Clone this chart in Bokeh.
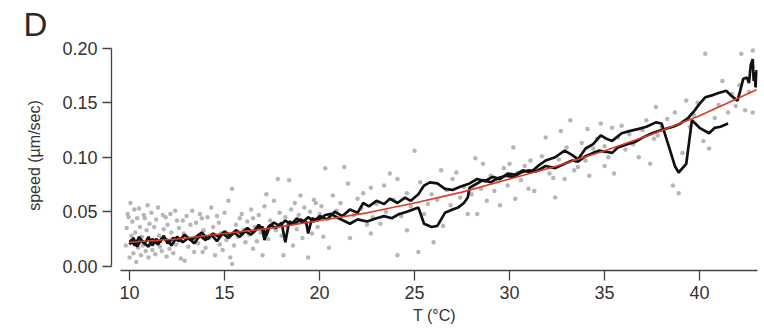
from bokeh.plotting import figure
from bokeh.models import Range1d, FixedTicker, NumeralTickFormatter
from bokeh.embed import file_html
from bokeh.resources import INLINE

# ---- data ----
x_ticks = [10, 15, 20, 25, 30, 35, 40]
y_ticks = [0.00, 0.05, 0.10, 0.15, 0.20]

scatter_t = [
    9.8, 9.85, 9.9, 9.95, 10.0, 10.05, 10.1, 10.15, 10.2, 10.25,
    10.3, 10.35, 10.4, 10.45, 10.5, 10.55, 10.6, 10.65, 10.7, 10.75,
    10.8, 10.85, 10.9, 10.95, 11.0, 11.05, 11.1, 11.15, 11.2, 11.3,
    11.35, 11.4, 11.5, 11.55, 11.6, 11.7, 11.75, 11.8, 11.9, 11.95,
    12.0, 12.1, 12.15, 12.2, 12.3, 12.4, 12.45, 12.5, 12.6, 12.7,
    12.8, 12.85, 12.9, 13.0, 13.1, 13.2, 13.3, 13.35, 13.4, 13.5,
    13.6, 13.7, 13.8, 13.85, 13.9, 14.0, 14.1, 14.2, 14.3, 14.4,
    14.5, 14.6, 14.7, 14.75, 14.8, 14.9, 15.0, 15.1, 15.2, 15.3,
    15.4, 15.4, 15.5, 15.6, 15.7, 15.8, 15.9, 16.0, 16.1, 16.2,
    16.3, 16.4, 16.5, 16.5, 16.6, 16.7, 16.8, 16.9, 17.0, 17.1,
    17.2, 17.3, 17.4, 17.6, 17.7, 17.8, 17.9, 18.0, 18.1, 18.2,
    18.3, 18.4, 18.5, 18.6, 18.7, 18.8, 18.9, 19.0, 19.1, 19.2,
    19.3, 19.4, 19.5, 19.6, 19.7, 19.8, 19.9, 20.0, 20.1, 20.2,
    20.3, 20.5, 20.5, 20.7, 20.9, 21.1, 21.3, 21.5, 21.6, 21.8,
    22.0, 22.2, 22.3, 22.5, 22.7, 22.7, 22.8, 23.0, 23.2, 23.4,
    23.5, 23.7, 23.9, 24.1, 24.1, 24.3, 24.6, 24.6, 24.8, 25.0,
    25.2, 25.3, 25.5, 25.7, 25.9, 26.0, 26.2, 26.4, 26.5, 26.7,
    26.9, 27.0, 27.2, 27.4, 27.6, 27.8, 28.0, 28.2, 28.3, 28.5,
    28.6, 28.8, 29.0, 29.2, 29.4, 29.5, 29.7, 29.9, 30.0, 30.2,
    30.3, 30.4, 30.6, 30.8, 31.0, 31.1, 31.3, 31.5, 31.7, 31.9,
    32.1, 32.3, 32.4, 32.6, 32.7, 32.9, 33.0, 33.2, 33.4, 33.6,
    33.8, 34.0, 34.1, 34.2, 34.4, 34.6, 34.8, 35.0, 35.0, 35.2,
    35.4, 35.5, 35.7, 35.9, 36.1, 36.3, 36.5, 36.8, 37.0, 37.2,
    37.4, 37.6, 37.7, 37.8, 38.0, 38.3, 38.6, 38.7, 38.9, 39.1,
    39.3, 39.5, 39.7, 39.9, 40.2, 40.3, 40.5, 40.8, 41.0, 41.2,
    41.5, 41.7, 41.9, 42.1, 42.2, 42.4, 42.6, 42.8, 42.8, 43.0,
]
scatter_v = [
    0.019, 0.035, 0.048, 0.045, 0.008, 0.058, 0.028, 0.041, 0.012, 0.052,
    0.031, 0.004, 0.044, 0.017, 0.053, 0.036, 0.010, 0.027, 0.019, 0.047,
    0.044, 0.014, 0.033, 0.056, 0.008, 0.039, 0.023, 0.049, 0.015, 0.036,
    0.011, 0.043, 0.054, 0.028, 0.018, 0.014, 0.047, 0.034, 0.045, 0.009,
    0.038, 0.016, 0.048, 0.031, 0.012, 0.051, 0.020, 0.042, 0.035, 0.007,
    0.042, 0.030, 0.005, 0.046, 0.018, 0.038, 0.051, 0.024, 0.013, 0.040,
    0.021, 0.048, 0.044, 0.013, 0.033, 0.017, 0.045, 0.026, 0.054, 0.036,
    0.010, 0.046, 0.040, 0.020, 0.030, 0.015, 0.049, 0.024, 0.060, 0.008,
    0.071, 0.002, 0.019, 0.038, 0.027, 0.044, 0.048, 0.033, 0.022, 0.041,
    0.029, 0.052, 0.044, 0.016, 0.036, 0.023, 0.047, 0.031, 0.010, 0.055,
    0.066, 0.025, 0.042, 0.060, 0.033, 0.080, 0.049, 0.028, 0.010, 0.045,
    0.037, 0.079, 0.052, 0.019, 0.058, 0.034, 0.047, 0.065, 0.026, 0.054,
    0.040, 0.008, 0.050, 0.030, 0.061, 0.058, 0.036, 0.048, 0.055, 0.027,
    0.090, 0.017, 0.044, 0.065, 0.051, 0.058, 0.091, 0.076, 0.026, 0.047,
    0.062, 0.053, 0.067, 0.038, 0.072, 0.030, 0.045, 0.057, 0.039, 0.074,
    0.050, 0.085, 0.061, 0.080, 0.010, 0.046, 0.067, 0.033, 0.055, 0.106,
    0.013, 0.077, 0.048, 0.057, 0.066, 0.022, 0.061, 0.088, 0.037, 0.070,
    0.056, 0.080, 0.086, 0.063, 0.073, 0.048, 0.066, 0.099, 0.048, 0.071,
    0.094, 0.060, 0.083, 0.069, 0.078, 0.056, 0.090, 0.074, 0.094, 0.109,
    0.062, 0.085, 0.079, 0.092, 0.071, 0.097, 0.069, 0.088, 0.101, 0.118,
    0.085, 0.081, 0.063, 0.098, 0.124, 0.080, 0.109, 0.134, 0.088, 0.091,
    0.113, 0.097, 0.126, 0.083, 0.108, 0.117, 0.131, 0.092, 0.110, 0.100,
    0.127, 0.085, 0.118, 0.129, 0.107, 0.121, 0.112, 0.100, 0.125, 0.134,
    0.094, 0.117, 0.146, 0.120, 0.128, 0.135, 0.074, 0.141, 0.067, 0.104,
    0.152, 0.128, 0.139, 0.150, 0.115, 0.195, 0.108, 0.136, 0.148, 0.170,
    0.141, 0.158, 0.147, 0.166, 0.195, 0.143, 0.160, 0.141, 0.198, 0.176,
]

# trace ending near 41.5 °C (with dip at ~39 °C)
trace1_t = [
    10.0, 10.2, 10.4, 10.6, 10.8, 11.0, 11.2, 11.4, 11.6, 11.8,
    12.0, 12.3, 12.6, 12.9, 13.2, 13.5, 13.8, 14.1, 14.4, 14.7,
    15.0, 15.3, 15.6, 15.9, 16.2, 16.5, 16.8, 17.0, 17.1, 17.3,
    17.6, 17.9, 18.2, 18.5, 18.8, 19.1, 19.4, 19.7, 20.0, 20.4,
    20.8, 21.2, 21.6, 22.0, 22.3, 22.6, 23.0, 23.4, 23.7, 24.1,
    24.5, 24.8, 25.2, 25.5, 25.8, 26.2, 26.6, 27.0, 27.4, 27.9,
    28.3, 28.7, 29.1, 29.5, 29.9, 30.3, 30.7, 31.1, 31.5, 31.9,
    32.4, 32.9, 33.3, 33.6, 34.0, 34.4, 34.8, 35.1, 35.4, 35.9,
    36.3, 36.8, 37.2, 37.7, 38.0, 38.4, 38.7, 38.9, 39.3, 39.6,
    40.0, 40.5, 40.8, 41.1, 41.5,
]
trace1_v = [
    0.020, 0.026, 0.018, 0.024, 0.021, 0.027, 0.019, 0.025, 0.022, 0.028,
    0.021, 0.026, 0.023, 0.029, 0.024, 0.027, 0.031, 0.025, 0.030, 0.027,
    0.032, 0.028, 0.033, 0.030, 0.035, 0.031, 0.038, 0.033, 0.024, 0.036,
    0.040, 0.037, 0.042, 0.038, 0.044, 0.040, 0.045, 0.041, 0.046, 0.043,
    0.050, 0.046, 0.052, 0.049, 0.058, 0.055, 0.060, 0.057, 0.062, 0.058,
    0.063, 0.060, 0.066, 0.074, 0.077, 0.076, 0.071, 0.070, 0.073, 0.076,
    0.080, 0.078, 0.082, 0.080, 0.085, 0.084, 0.088, 0.086, 0.092, 0.097,
    0.100, 0.106, 0.102, 0.098, 0.108, 0.112, 0.120, 0.117, 0.115, 0.122,
    0.124, 0.126, 0.128, 0.132, 0.131, 0.109, 0.092, 0.086, 0.094, 0.134,
    0.127, 0.122, 0.127, 0.128, 0.131,
]

# trace reaching 43 °C
trace2_t = [
    10.0, 10.3, 10.5, 10.7, 11.0, 11.2, 11.5, 11.7, 12.0, 12.2,
    12.5, 12.8, 13.1, 13.4, 13.7, 14.0, 14.3, 14.6, 14.9, 15.2,
    15.5, 15.8, 16.1, 16.4, 16.7, 17.0, 17.2, 17.4, 17.7, 18.0,
    18.2, 18.4, 18.7, 19.0, 19.3, 19.4, 19.6, 19.9, 20.3, 20.6,
    21.0, 21.6, 22.0, 22.5, 23.0, 23.4, 23.8, 24.2, 24.6, 25.2,
    25.5, 25.9, 26.2, 26.6, 27.0, 27.3, 27.6, 27.8, 27.9, 28.2,
    28.6, 29.0, 29.4, 29.8, 30.2, 30.6, 31.0, 31.4, 31.9, 32.4,
    32.9, 33.3, 33.6, 34.0, 34.4, 34.7, 35.1, 35.4, 35.7, 36.2,
    36.6, 37.0, 37.5, 38.0, 38.6, 39.0, 39.4, 39.7, 40.0, 40.3,
    40.7, 41.0, 41.4, 41.7, 42.0, 42.2, 42.3, 42.5, 42.6, 42.7,
    42.8, 42.85, 42.9, 42.95, 43.0,
]
trace2_v = [
    0.024, 0.019, 0.027, 0.022, 0.018, 0.025, 0.020, 0.026, 0.024, 0.019,
    0.027, 0.022, 0.026, 0.021, 0.028, 0.024, 0.029, 0.023, 0.030, 0.026,
    0.031, 0.027, 0.032, 0.029, 0.034, 0.036, 0.028, 0.038, 0.035, 0.040,
    0.022, 0.041, 0.039, 0.043, 0.040, 0.030, 0.044, 0.042, 0.047, 0.048,
    0.044, 0.039, 0.043, 0.041, 0.044, 0.046, 0.044, 0.048, 0.050, 0.054,
    0.039, 0.036, 0.037, 0.049, 0.052, 0.054, 0.058, 0.063, 0.072, 0.075,
    0.079, 0.077, 0.081, 0.083, 0.082, 0.086, 0.088, 0.087, 0.092, 0.090,
    0.094, 0.097, 0.096, 0.101, 0.104, 0.106, 0.105, 0.104, 0.109, 0.112,
    0.114, 0.118, 0.122, 0.125, 0.128, 0.131, 0.136, 0.142, 0.149, 0.155,
    0.157, 0.159, 0.161, 0.156, 0.152, 0.165, 0.172, 0.173, 0.168, 0.185,
    0.190, 0.170, 0.178, 0.164, 0.180,
]

# fitted curve
fit_t = [10.0, 12.5, 15.0, 17.5, 20.0, 22.5, 25.0, 27.5, 30.0, 32.5, 35.0, 37.5, 40.0, 43.0]
fit_v = [0.022, 0.025, 0.030, 0.035, 0.042, 0.049, 0.058, 0.068, 0.080, 0.092, 0.106, 0.121, 0.138, 0.162]

FONT = "Liberation Sans"
AX = "#444444"

p = figure(
    frame_width=646, frame_height=230,
    min_border_left=111, min_border_right=6, min_border_top=40, min_border_bottom=10,
    x_range=Range1d(9.05, 43.05), y_range=Range1d(-0.0039, 0.2071),
    output_backend="svg", toolbar_location=None,
    title="D",
)
p.outline_line_color = None
p.xgrid.grid_line_color = None
p.ygrid.grid_line_color = None
p.background_fill_color = "white"

p.title.text_font = FONT
p.title.text_font_size = "33px"
p.title.text_font_style = "normal"
p.title.text_color = "#2a2a2a"
p.title.align = "left"
p.title.offset = -88
p.title.standoff = -4

p.scatter(scatter_t, scatter_v, size=4.5, fill_color="#a9a9a9", line_color=None, fill_alpha=0.85)
p.line(trace1_t, trace1_v, line_color="#111111", line_width=2.7)
p.line(trace2_t, trace2_v, line_color="#111111", line_width=2.7)
p.line(fit_t, fit_v, line_color="#e23a26", line_width=1.6)

xa = p.xaxis[0]
xa.ticker = FixedTicker(ticks=x_ticks)
xa.bounds = (9.52, 43.05)
xa.axis_label = "T (°C)"
ya = p.yaxis[0]
ya.ticker = FixedTicker(ticks=y_ticks)
ya.formatter = NumeralTickFormatter(format="0.00")
ya.bounds = (0.0, 0.2)
ya.axis_label = "speed (µm/sec)"

for ax in (xa, ya):
    ax.axis_line_color = AX
    ax.axis_line_width = 1.3
    ax.major_tick_line_color = AX
    ax.major_tick_line_width = 1.3
    ax.minor_tick_line_color = None
    ax.major_tick_in = 0
    ax.major_label_text_font = FONT
    ax.major_label_text_font_size = "18px"
    ax.major_label_text_color = "#333333"
    ax.axis_label_text_font = FONT
    ax.axis_label_text_font_size = "16px"
    ax.axis_label_text_font_style = "normal"
    ax.axis_label_text_color = "#333333"

xa.major_tick_out = 10
xa.major_label_standoff = 5
xa.axis_label_standoff = 5
ya.major_tick_out = 9
ya.major_label_standoff = 5
ya.axis_label_standoff = 16

open("out.html", "w").write(file_html(p, INLINE))
